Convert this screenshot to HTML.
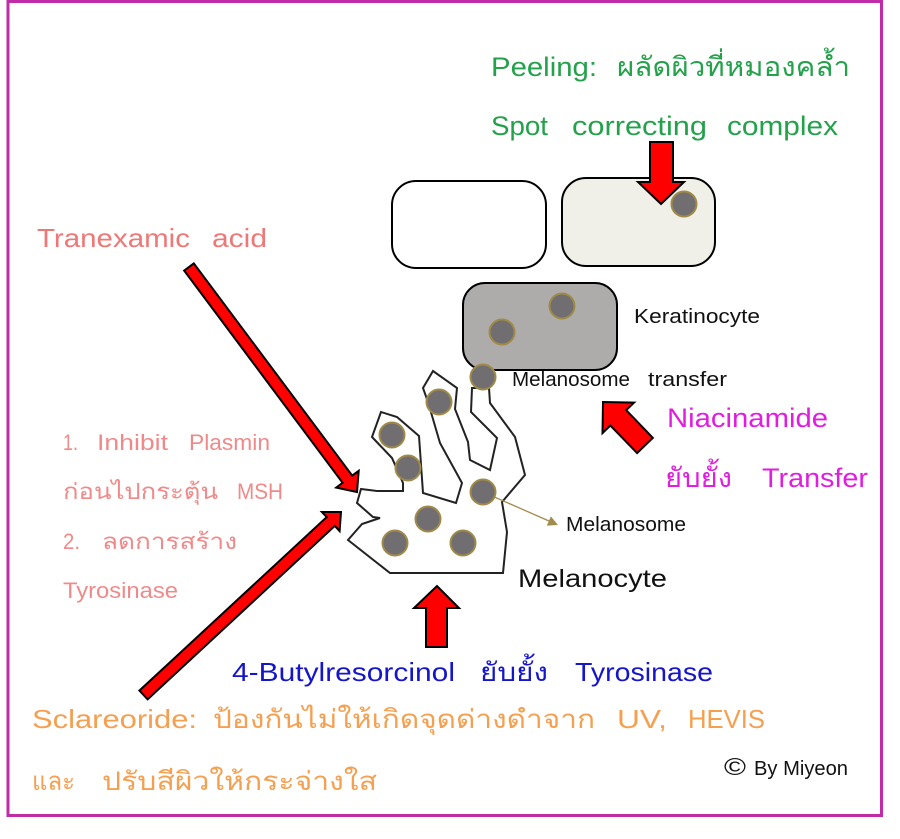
<!DOCTYPE html>
<html>
<head>
<meta charset="utf-8">
<style>
  html,body{margin:0;padding:0;background:#fff;}
  svg{display:block;}
  text{font-family:"Liberation Sans","Noto Sans CJK JP",sans-serif;}
</style>
</head>
<body>
<svg width="900" height="839" viewBox="0 0 900 839" xmlns="http://www.w3.org/2000/svg">
  <rect x="0" y="0" width="900" height="839" fill="#ffffff"/>
  <!-- frame -->
  <rect x="8" y="1.5" width="873.5" height="814" fill="none" stroke="#c02ca8" stroke-width="3"/>

  <!-- top cells -->
  <rect x="392" y="181" width="154" height="87" rx="24" ry="24" fill="#ffffff" stroke="#000" stroke-width="2"/>
  <rect x="562" y="178" width="153" height="88" rx="24" ry="24" fill="#f1f0e8" stroke="#000" stroke-width="2"/>

  <!-- keratinocyte -->
  <rect x="463" y="283" width="154" height="87" rx="22" ry="22" fill="#aeabab" stroke="#000" stroke-width="2"/>

  <!-- melanocyte outline -->
  <polygon fill="#ffffff" stroke="#222" stroke-width="2" stroke-linejoin="miter"
    points="390,573 503,573 507,532 502,502 525,475 515,437 490,403 489,388 472,388 471,412 497,438 490,470 470,460 468,442 455,409 457,388 433,371 423,388 428,402 440,443 462,483 456,503 423,493 419,436 397,417 381,412 372,437 392,458 403,483 403,491 377,491 361,489 357,503 373,517 380,518 362,524 348,540"/>

  <!-- melanosome pointer -->
  <line x1="483" y1="492" x2="549" y2="521" stroke="#a08c4c" stroke-width="1.3"/>
  <polygon points="558,525 546.8,525.6 550.9,516.4" fill="#a08c4c"/>

  <!-- melanosomes -->
  <g fill="#716e71" stroke="#a08a48" stroke-width="2">
    <circle cx="684" cy="204" r="12.5"/>
    <circle cx="562" cy="306" r="12.5"/>
    <circle cx="502" cy="332" r="12.5"/>
    <circle cx="483" cy="377" r="12.5"/>
    <circle cx="439" cy="402" r="12.5"/>
    <circle cx="392" cy="435" r="12.5"/>
    <circle cx="408" cy="468" r="12.5"/>
    <circle cx="483" cy="492" r="12.5"/>
    <circle cx="428" cy="519" r="12.5"/>
    <circle cx="463" cy="543" r="12.5"/>
    <circle cx="395" cy="543" r="12.5"/>
  </g>

  <!-- red arrows -->
  <g fill="#ff0000" stroke="#000" stroke-width="2" stroke-linejoin="miter">
    <!-- top down arrow -->
    <polygon points="650,142 673,142 673,182 684,182 661,204 638,182 650,182"/>
    <!-- tranexamic -->
    <polygon points="184.2,270.6 342.6,482.8 336.2,487.6 357,492 358.7,470.8 352.2,475.6 193.8,263.4"/>
    <!-- sclareoride -->
    <polygon points="147.6,699.4 334.8,525.9 339.6,531.1 341,512 321.9,512 326.7,517.1 139.4,690.6"/>
    <!-- niacinamide -->
    <polygon points="652.9,437.9 626.2,410.2 634.1,402.6 603,402 602.5,433.1 610.4,425.5 637.1,453.1"/>
    <!-- up arrow -->
    <polygon points="426,647 426,608 414,608 437,586 459,608 447,608 447,647"/>
  </g>

  <!-- green text -->
  <g fill="#23a14b" font-size="27">
    <text x="491" y="76" textLength="106" lengthAdjust="spacingAndGlyphs">Peeling:</text>
    <text x="617" y="76" textLength="233" lengthAdjust="spacingAndGlyphs">ผลัดผิวที่หมองคล้ำ</text>
    <text x="491" y="135" textLength="57" lengthAdjust="spacingAndGlyphs">Spot</text>
    <text x="572" y="135" textLength="135" lengthAdjust="spacingAndGlyphs">correcting</text>
    <text x="727" y="135" textLength="111" lengthAdjust="spacingAndGlyphs">complex</text>
  </g>

  <!-- pink text -->
  <g fill="#ee7878" font-size="26">
    <text x="37" y="247" textLength="153" lengthAdjust="spacingAndGlyphs">Tranexamic</text>
    <text x="212" y="247" textLength="55" lengthAdjust="spacingAndGlyphs">acid</text>
  </g>
  <g fill="#f08a8a" font-size="22">
    <text x="63" y="450" textLength="15" lengthAdjust="spacingAndGlyphs">1.</text>
    <text x="97" y="450" textLength="71" lengthAdjust="spacingAndGlyphs">Inhibit</text>
    <text x="189" y="450" textLength="81" lengthAdjust="spacingAndGlyphs">Plasmin</text>
    <text x="63" y="499" textLength="155" lengthAdjust="spacingAndGlyphs">ก่อนไปกระตุ้น</text>
    <text x="237" y="499" textLength="46" lengthAdjust="spacingAndGlyphs">MSH</text>
    <text x="63" y="549" textLength="17" lengthAdjust="spacingAndGlyphs">2.</text>
    <text x="102" y="549" textLength="135" lengthAdjust="spacingAndGlyphs">ลดการสร้าง</text>
    <text x="63" y="598" textLength="115" lengthAdjust="spacingAndGlyphs">Tyrosinase</text>
  </g>

  <!-- black labels -->
  <g fill="#111" font-size="20">
    <text x="634" y="323" textLength="126" lengthAdjust="spacingAndGlyphs">Keratinocyte</text>
    <text x="512" y="386" textLength="118" lengthAdjust="spacingAndGlyphs">Melanosome</text>
    <text x="648" y="386" textLength="79" lengthAdjust="spacingAndGlyphs">transfer</text>
    <text x="566" y="531" textLength="120" lengthAdjust="spacingAndGlyphs">Melanosome</text>
    <text x="518" y="587" font-size="25" textLength="149" lengthAdjust="spacingAndGlyphs">Melanocyte</text>
  </g>

  <!-- magenta text -->
  <g fill="#e01ee0" font-size="27">
    <text x="667" y="427" textLength="161" lengthAdjust="spacingAndGlyphs">Niacinamide</text>
    <text x="665" y="487" textLength="67" lengthAdjust="spacingAndGlyphs">ยับยั้ง</text>
    <text x="762" y="487" textLength="106" lengthAdjust="spacingAndGlyphs">Transfer</text>
  </g>

  <!-- blue text -->
  <g fill="#1515cc" font-size="26">
    <text x="232" y="681" textLength="223" lengthAdjust="spacingAndGlyphs">4-Butylresorcinol</text>
    <text x="480" y="681" textLength="68" lengthAdjust="spacingAndGlyphs">ยับยั้ง</text>
    <text x="575" y="681" textLength="138" lengthAdjust="spacingAndGlyphs">Tyrosinase</text>
  </g>

  <!-- orange text -->
  <g fill="#f5a050" font-size="26">
    <text x="32" y="728" textLength="165" lengthAdjust="spacingAndGlyphs">Sclareoride:</text>
    <text x="213" y="728" textLength="382" lengthAdjust="spacingAndGlyphs">ป้องกันไม่ให้เกิดจุดด่างดำจาก</text>
    <text x="617" y="728" textLength="50" lengthAdjust="spacingAndGlyphs">UV,</text>
    <text x="688" y="728" textLength="77" lengthAdjust="spacingAndGlyphs">HEVIS</text>
    <text x="32" y="790" textLength="43" lengthAdjust="spacingAndGlyphs">และ</text>
    <text x="102" y="790" textLength="275" lengthAdjust="spacingAndGlyphs">ปรับสีผิวให้กระจ่างใส</text>
  </g>

  <!-- credit -->
  <g fill="#111">
    <text x="724" y="775" font-size="24" textLength="22" lengthAdjust="spacingAndGlyphs">©</text>
    <text x="754" y="775" font-size="20" textLength="94" lengthAdjust="spacingAndGlyphs">By Miyeon</text>
  </g>
</svg>
</body>
</html>
